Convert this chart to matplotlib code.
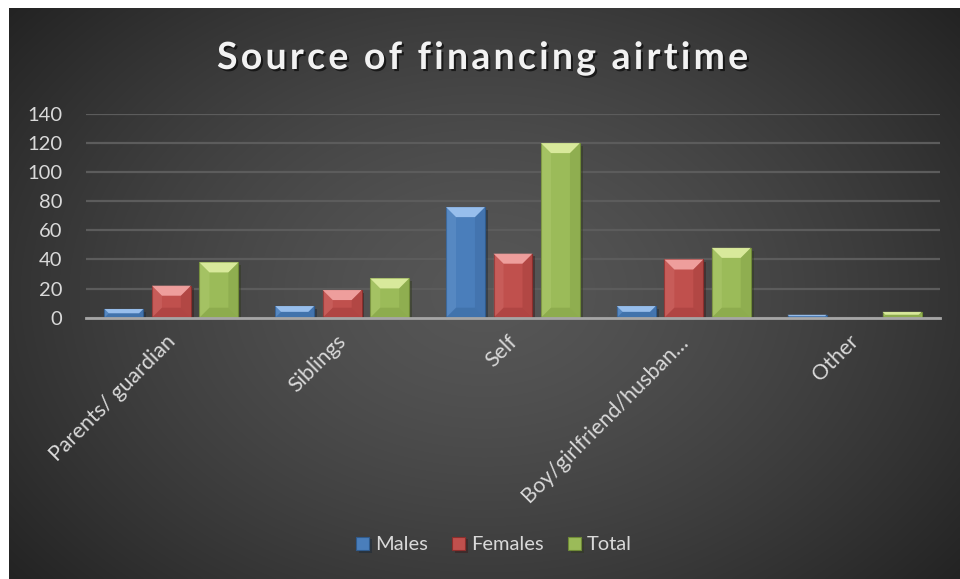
import numpy as np
import matplotlib
matplotlib.use("Agg")
import matplotlib.pyplot as plt
from matplotlib.patches import Polygon
from matplotlib import patheffects
from matplotlib.transforms import ScaledTranslation
from matplotlib.textpath import TextPath
from matplotlib.font_manager import FontProperties

plt.rcParams['font.family'] = ['Lato', 'DejaVu Sans']

categories = ['Parents/ guardian', 'Siblings', 'Self', 'Boy/girlfriend/husban\u2026', 'Other']
males = [6, 8, 76, 8, 2]
females = [22, 19, 44, 40, 0]
total = [38, 27, 120, 48, 4]

series_names = ['Males', 'Females', 'Total']
face_colors = ['#4a7ebb', '#c0504d', '#9bbb59']
top_colors = ['#9cc2ef', '#f1a3a1', '#dcec9f']
dark_colors = ['#2f5a8c', '#8c2e2c', '#6f8a36']
text_col = '#d9d9d9'
chart_title = 'Source of financing airtime'

fig = plt.figure(figsize=(9.6, 5.79), dpi=100)
fig.patch.set_facecolor('white')

# dark chart area with a soft radial glow
bg = fig.add_axes([9 / 960, 0, 951 / 960, 1 - 8 / 579])
bg.set_axis_off()
yy, xx = np.mgrid[0:1:300j, 0:1:500j]
r = np.sqrt(((xx - 0.5) / 0.62) ** 2 + ((yy - 0.5) / 0.75) ** 2)
shade = np.clip(0.34 - 0.19 * r ** 1.4, 0.14, 0.34)
bg.imshow(np.dstack([shade] * 3), extent=[0, 1, 0, 1], aspect='auto', interpolation='bilinear')

ax = fig.add_axes([86 / 960, 1 - 317.7 / 579, 854 / 960, (317.7 - 114) / 579])
ax.patch.set_alpha(0)
ax.set_ylim(0, 140)
ax.set_xlim(-0.5, len(categories) - 0.5)
ax.set_yticks(range(0, 141, 20))
for s in ['top', 'right', 'left']:
    ax.spines[s].set_visible(False)
ax.spines['bottom'].set_color('#a6a6a6')
ax.spines['bottom'].set_linewidth(2)
ax.spines['bottom'].set_zorder(5)
ax.grid(axis='y', color='#5c5c5c', linewidth=1.6)
ax.set_axisbelow(True)
ax.tick_params(axis='y', length=0, pad=17, labelsize=14.5, labelcolor=text_col)
ax.tick_params(axis='x', length=0, pad=15, labelsize=15.5, labelcolor=text_col)

x = np.arange(len(categories))
width = 0.228
step = 0.278

px_x = 854 / len(categories)      # pixels per category unit
px_y = (317.7 - 114) / 140        # pixels per value unit
bev = 10                          # bevel size, pixels


def bevel(patch, i):
    x0, y0 = patch.get_x(), patch.get_y()
    w, h = patch.get_width(), patch.get_height()
    if h <= 0:
        return
    by = min(bev / px_y, h / 2)
    bx = min(bev / px_x, w / 2) * (by / (bev / px_y))
    x1, y1 = x0 + w, y0 + h
    pieces = [
        ([(x0, y1), (x1, y1), (x1 - bx, y1 - by), (x0 + bx, y1 - by)], top_colors[i], 0.95),
        ([(x0, y0), (x0, y1), (x0 + bx, y1 - by), (x0 + bx, y0 + by)], top_colors[i], 0.15),
        ([(x1, y0), (x1, y1), (x1 - bx, y1 - by), (x1 - bx, y0 + by)], dark_colors[i], 0.25),
        ([(x0, y0), (x1, y0), (x1 - bx, y0 + by), (x0 + bx, y0 + by)], dark_colors[i], 0.3),
    ]
    for pts, c, a in pieces:
        ax.add_patch(Polygon(pts, closed=True, facecolor=c, edgecolor='none',
                             alpha=a, zorder=3))


for i, vals in enumerate([males, females, total]):
    bars = ax.bar(x + (i - 1) * step, vals, width, color=face_colors[i],
                  edgecolor=top_colors[i] if i == 1 else dark_colors[i],
                  linewidth=0.8, label=series_names[i], zorder=2)
    for p in bars:
        if p.get_height() > 0:
            p.set_edgecolor(dark_colors[i])
        p.set_path_effects([patheffects.SimplePatchShadow(offset=(2, -2), alpha=0.45),
                            patheffects.Normal()])
        bevel(p, i)

ax.set_xticks(x)
ax.set_xticklabels(categories, rotation=45, ha='right', va='center',
                   rotation_mode='anchor')
for lab in ax.get_xticklabels():
    lab.set_transform(lab.get_transform() + ScaledTranslation(1 / 100, 0, fig.dpi_scale_trans))

# title drawn letter by letter to get the wide tracking
tsize = 27
tfp = FontProperties(family=['Lato', 'DejaVu Sans'], weight='bold', size=tsize)
track = 3.2  # extra pixels between letters
pt2px = fig.dpi / 72
full = TextPath((0, 0), chart_title, prop=tfp).get_extents().x1 * pt2px
total_w = full + track * (len(chart_title) - 1)
x_start = 482 - total_w / 2
x_ref = TextPath((0, 0), 'x', prop=tfp).get_extents().x1 * pt2px
shadow = [patheffects.withSimplePatchShadow(offset=(1.5, -1.5),
                                            shadow_rgbFace='black', alpha=0.6)]
for k, ch in enumerate(chart_title):
    if ch == ' ':
        continue
    adv = TextPath((0, 0), chart_title[:k] + 'x', prop=tfp).get_extents().x1 * pt2px - x_ref
    xp = x_start + adv + track * k
    t = fig.text(xp / 960, 1 - 69 / 579, ch, ha='left', va='baseline',
                 fontproperties=tfp, color='#f2f2f2')
    t.set_path_effects(shadow)

leg = fig.legend(loc='center', bbox_to_anchor=(494 / 960, 1 - 545 / 579), ncol=3,
                 frameon=False, fontsize=14.5, handlelength=0.65, handleheight=0.65,
                 handletextpad=0.3, columnspacing=1.2)
for t in leg.get_texts():
    t.set_color(text_col)

fig.savefig('out.png', dpi=100, facecolor=fig.get_facecolor())
